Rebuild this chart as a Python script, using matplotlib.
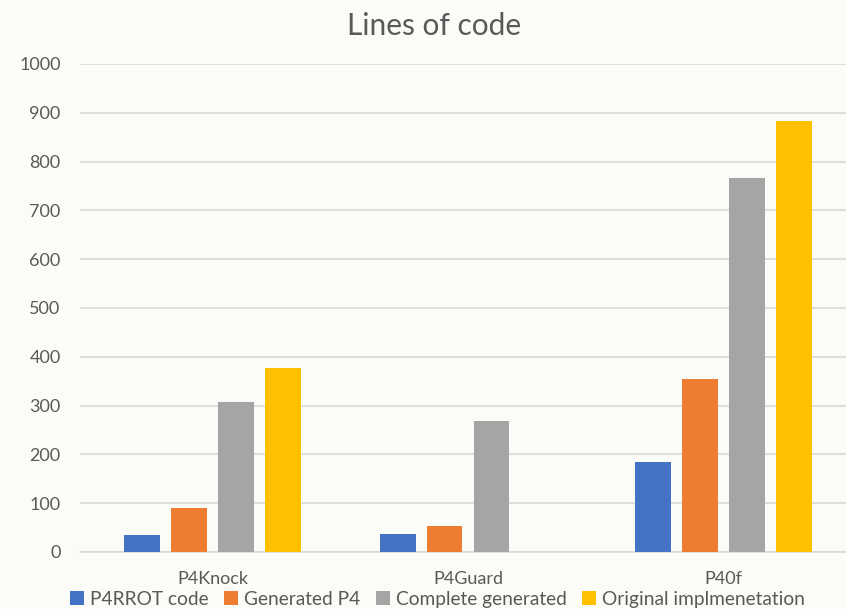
import numpy as np
from matplotlib import pyplot as plt

plt.rcParams['font.family'] = ['Lato', 'DejaVu Sans']

# lines of code per project
projects = ['P4Knock', 'P4Guard', 'P40f']
series = ['P4RROT code', 'Generated P4', 'Complete generated', 'Original implmenetation']
p4rrot = [35, 36, 185]
generated = [90, 53, 354]
complete = [307, 269, 767]
original = [378, 0, 883]
colors = ['#4472C4', '#ED7D31', '#A5A5A5', '#FFC000']

bg = '#fbfbf7'
fig = plt.figure(figsize=(8.46, 6.09), dpi=100, facecolor=bg)
ax = fig.add_axes([80/846, 1 - 552/609, 766/846, 488/609], facecolor=bg)

x = np.arange(len(projects))
pitch = 0.184
width = 0.14
for i, (vals, name) in enumerate(zip([p4rrot, generated, complete, original], series)):
    ax.bar(x + (i - 1.5) * pitch, vals, width, color=colors[i], label=name, zorder=3)

ax.set_xlim(-0.52, 2.48)
ax.set_ylim(0, 1000)
ax.set_yticks(range(0, 1001, 100))
ax.grid(axis='y', color='#d9d9d9', linewidth=1.2, zorder=0)
for s in ['top', 'right', 'left']:
    ax.spines[s].set_visible(False)
ax.spines['bottom'].set_color('#d9d9d9')
ax.spines['bottom'].set_linewidth(1.2)
ax.tick_params(axis='both', length=0, labelsize=13, colors='#595959')
ax.tick_params(axis='y', pad=14)
ax.tick_params(axis='x', pad=14)
ax.set_xticks(x)
ax.set_xticklabels(projects)

fig.text(0.513, 0.957, 'Lines of code', ha='center', va='center', fontsize=21.5, color='#595959')
fig.legend(loc='center', bbox_to_anchor=(0.517, 0.016), ncol=4, frameon=False,
           fontsize=13.8, handlelength=0.75, handleheight=0.75, handletextpad=0.3,
           columnspacing=0.8, labelcolor='#595959', borderpad=0)

plt.savefig('out.png', dpi=100, facecolor=bg)
